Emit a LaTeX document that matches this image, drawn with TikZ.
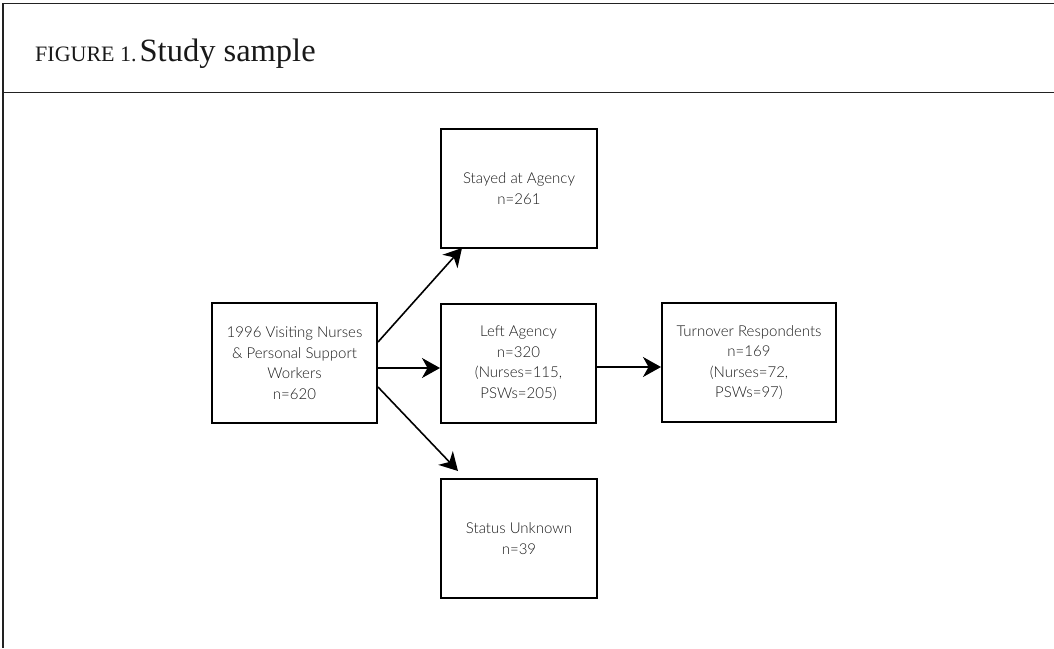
\documentclass[tikz,border=0pt]{standalone}
\usepackage{fontspec}
\newfontfamily\boxfont{Lato Light}
\newfontfamily\titlefont{Liberation Serif}
\usetikzlibrary{arrows.meta}
\definecolor{txtgray}{HTML}{1A1A1A}
\definecolor{framec}{HTML}{222222}
\begin{document}
\begin{tikzpicture}[x=1pt,y=-1pt,
  stepbox/.style={draw=black,line width=2pt,align=center,inner sep=0pt,
    font=\boxfont\fontsize{15}{20.5}\selectfont,text=txtgray},
  conn/.style={line width=1.6pt,-{Stealth[length=18pt,width=20pt,inset=5.5pt]}},
  framel/.style={draw=framec,line width=1.4pt}]
\useasboundingbox (0,0) rectangle (1054,648);
% frame
\draw[framel] (1054,3.5) -- (3,3.5) -- (3,648);
\draw[framel] (3,92.5) -- (1054,92.5);
\node[anchor=base west,inner sep=0pt,text=black!90] (title) at (35,61)
  {\titlefont\fontsize{22}{26}\selectfont FIGURE 1.\hspace{3pt}\fontsize{32.5}{36}\selectfont Study sample};
% boxes
\node[stepbox,minimum width=165pt,minimum height=120pt] (src) at (294.5,363)
  {1996 Visiting Nurses\\ \& Personal Support\\ Workers\\ n=620};
\node[stepbox,minimum width=156pt,minimum height=119pt] (stay) at (519,188.5)
  {Stayed at Agency\\ n=261};
\node[stepbox,minimum width=155pt,minimum height=119pt] (left) at (518.5,363)
  {Left Agency\\ n=320\\ (Nurses=115,\\ PSWs=205)};
\node[stepbox,minimum width=174pt,minimum height=119pt] (turn) at (749,362.5)
  {Turnover Respondents\\ n=169\\ (Nurses=72,\\ PSWs=97)};
\node[stepbox,minimum width=156pt,minimum height=119pt] (unk) at (519,538.5)
  {Status Unknown\\ n=39};
% connectors
\draw[conn] ([yshift=21pt]src.east) -- ([xshift=22pt,yshift=1pt]stay.south west);
\draw[conn] ([yshift=-5pt]src.east) -- ([yshift=-5pt]left.west);
\draw[conn] ([yshift=-24pt]src.east) -- ([xshift=18pt,yshift=7pt]unk.north west);
\draw[conn] ([yshift=-4pt]left.east) -- ([yshift=-4.5pt]turn.west);
\end{tikzpicture}
\end{document}
